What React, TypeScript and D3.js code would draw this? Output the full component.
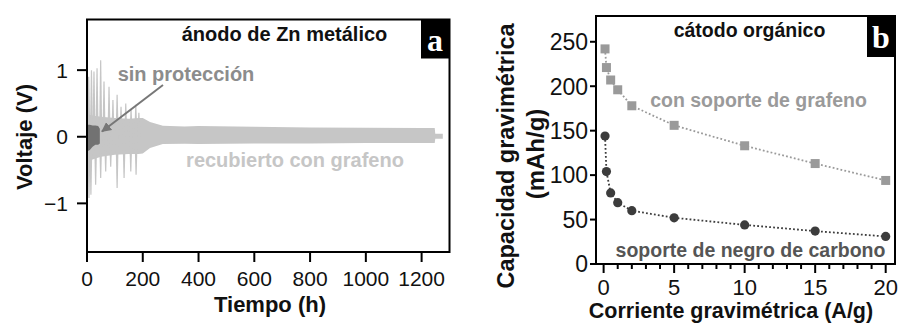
import React from "react";
import * as d3 from "d3";

// ---------- Panel a data (voltage profile envelope) ----------
const bandTime = [0, 20, 50, 100, 150, 185, 200, 226, 272, 350, 400, 600, 800, 1000, 1200, 1247, 1249, 1276];
const bandUpper = [0.34, 0.32, 0.3, 0.28, 0.27, 0.28, 0.28, 0.22, 0.165, 0.155, 0.16, 0.15, 0.14, 0.135, 0.13, 0.13, 0.045, 0.045];
const bandLower = [-0.36, -0.34, -0.3, -0.27, -0.26, -0.26, -0.25, -0.17, -0.11, -0.105, -0.11, -0.1, -0.1, -0.095, -0.095, -0.095, -0.03, -0.03];

const upSpikeTime = [6, 16, 25, 36, 49, 61, 79, 93, 108, 122, 139, 158, 175, 186];
const upSpikeV = [0.9, 1.0, 0.98, 1.03, 1.15, 0.83, 0.75, 0.55, 0.63, 0.45, 0.5, 0.42, 0.48, 0.36];
const downSpikeTime = [7, 14, 31, 49, 67, 85, 108, 133, 157, 176];
const downSpikeV = [-0.92, -0.87, -0.72, -0.62, -0.52, -0.45, -0.77, -0.62, -0.52, -0.57];

const bareTime = [0, 10, 20, 30, 40, 46];
const bareUpper = [0.18, 0.18, 0.17, 0.17, 0.16, 0.12];
const bareLower = [-0.22, -0.2, -0.15, -0.12, -0.12, -0.1];

const xTicksA = [0, 200, 400, 600, 800, 1000, 1200];
const yTicksA = [-1, 0, 1];

// ---------- Panel b data ----------
const currents = [0.1, 0.2, 0.5, 1, 2, 5, 10, 15, 20];
const grapheneCap = [242, 221, 207, 196, 178, 156, 133, 113, 94];
const carbonCap = [144, 104, 80, 69, 60, 52, 44, 37, 31];
const xTicksB = [0, 5, 10, 15, 20];
const xMinorB = d3.range(0, 21, 1);
const yTicksB = [0, 50, 100, 150, 200, 250];

const SANS = "'Liberation Sans', Arial, Helvetica, sans-serif";
const SERIF = "'Liberation Serif', 'Times New Roman', serif";

export default function App() {
  // Panel a scales
  const aL = 87, aR = 449.5, aT = 19.5, aB = 252;
  const xA = d3.scaleLinear().domain([0, 1300]).range([aL, aR]);
  const yA = d3.scaleLinear().domain([-1.73, 1.76]).range([aB, aT]);

  const bandData = bandTime.map((t, i) => ({ t, u: bandUpper[i], l: bandLower[i] }));
  const bareData = bareTime.map((t, i) => ({ t, u: bareUpper[i], l: bareLower[i] }));
  const area = d3
    .area<{ t: number; u: number; l: number }>()
    .x((d) => xA(d.t))
    .y0((d) => yA(d.l))
    .y1((d) => yA(d.u));

  const spikePath = (t: number, v: number) => {
    const x = xA(t);
    const y0 = yA(0);
    const y1 = yA(v);
    return `M${x - 1.6},${y0} L${x - 0.6},${y1} L${x + 0.6},${y1} L${x + 1.6},${y0} Z`;
  };

  // Panel b scales
  const bL = 596, bR = 895, bT = 16, bB = 264;
  const xB = d3.scaleLinear().domain([-0.54, 20.66]).range([bL, bR]);
  const yB = d3.scaleLinear().domain([0, 279]).range([bB, bT]);
  const lineB = d3
    .line<number>()
    .x((_, i) => xB(currents[i]))
    .y((d) => yB(d));

  const lightGray = "#c6c6c6";

  return (
    <svg
      width={899}
      height={323}
      style={{ position: "absolute", left: 0, top: 0, background: "#fff" }}
      fontFamily={SANS}
    >
      {/* ===== Panel a ===== */}
      <defs>
        <clipPath id="clipA">
          <rect x={aL} y={aT} width={aR - aL} height={aB - aT} />
        </clipPath>
        <marker id="arrowHead" viewBox="0 0 10 10" refX="9" refY="5" markerWidth="5" markerHeight="5" orient="auto">
          <path d="M0,0 L10,5 L0,10 Z" fill="#777" />
        </marker>
      </defs>
      <g clipPath="url(#clipA)">
        <path d={area(bandData) || ""} fill={lightGray} />
        {upSpikeTime.map((t, i) => (
          <path key={"u" + i} d={spikePath(t, upSpikeV[i])} fill={lightGray} />
        ))}
        {downSpikeTime.map((t, i) => (
          <path key={"d" + i} d={spikePath(t, downSpikeV[i])} fill={lightGray} />
        ))}
        <path d={area(bareData) || ""} fill="#727272" />
      </g>
      <rect x={aL} y={aT} width={aR - aL} height={aB - aT} fill="none" stroke="#000" strokeWidth={2} />
      {/* panel label a */}
      <rect x={421} y={aT} width={aR - 421} height={39} fill="#000" />
      <text x={435} y={51} fill="#fff" fontFamily={SERIF} fontWeight="bold" fontSize={32} textAnchor="middle">
        a
      </text>
      {/* ticks a */}
      {yTicksA.map((v) => (
        <g key={"ya" + v}>
          <line x1={aL - 10} x2={aL} y1={yA(v)} y2={yA(v)} stroke="#000" strokeWidth={2} />
          <text x={68} y={yA(v)} dy="0.36em" fontSize={21} textAnchor="end" fill="#111">
            {v < 0 ? "\u2212" + Math.abs(v) : v}
          </text>
        </g>
      ))}
      {xTicksA.map((v) => (
        <g key={"xa" + v}>
          <line x1={xA(v)} x2={xA(v)} y1={aB} y2={aB + 10} stroke="#000" strokeWidth={2} />
          <text x={xA(v)} y={286} fontSize={21} textAnchor="middle" fill="#111">
            {v}
          </text>
        </g>
      ))}
      <text x={270} y={312} fontSize={22} fontWeight="bold" textAnchor="middle" fill="#111">
        Tiempo (h)
      </text>
      <text
        transform="translate(32,137) rotate(-90)"
        fontSize={22}
        fontWeight="bold"
        textAnchor="middle"
        fill="#111"
      >
        Voltaje (V)
      </text>
      <text x={284.5} y={41} fontSize={20} fontWeight="bold" textAnchor="middle" fill="#111">
        ánodo de Zn metálico
      </text>
      <text x={186} y={81} fontSize={20} fontWeight="bold" textAnchor="middle" fill="#8c8c8c">
        sin protección
      </text>
      <line x1={163} y1={85} x2={102} y2={131.5} stroke="#777" strokeWidth={2} markerEnd="url(#arrowHead)" />
      <text x={295} y={167} fontSize={20} fontWeight="bold" textAnchor="middle" fill={lightGray}>
        recubierto con grafeno
      </text>

      {/* ===== Panel b ===== */}
      <path d={lineB(grapheneCap) || ""} fill="none" stroke="#9a9a9a" strokeWidth={1.8} strokeDasharray="1.8,2.2" />
      <path d={lineB(carbonCap) || ""} fill="none" stroke="#3c3c3c" strokeWidth={1.8} strokeDasharray="1.8,2.2" />
      {grapheneCap.map((v, i) => (
        <rect key={"g" + i} x={xB(currents[i]) - 4.5} y={yB(v) - 4.5} width={9} height={9} fill="#9a9a9a" />
      ))}
      {carbonCap.map((v, i) => (
        <circle key={"c" + i} cx={xB(currents[i])} cy={yB(v)} r={4.6} fill="#3c3c3c" />
      ))}
      <rect x={bL} y={bT} width={bR - bL} height={bB - bT} fill="none" stroke="#000" strokeWidth={2} />
      <rect x={867} y={bT} width={bR - 867} height={41} fill="#000" />
      <text x={881} y={48} fill="#fff" fontFamily={SERIF} fontWeight="bold" fontSize={32} textAnchor="middle">
        b
      </text>
      {yTicksB.map((v) => (
        <g key={"yb" + v}>
          <line x1={bL - 6} x2={bL} y1={yB(v)} y2={yB(v)} stroke="#000" strokeWidth={2} />
          <text x={588} y={yB(v)} dy="0.36em" fontSize={23} textAnchor="end" fill="#111">
            {v}
          </text>
        </g>
      ))}
      {xMinorB.map((v) => (
        <line
          key={"mb" + v}
          x1={xB(v)}
          x2={xB(v)}
          y1={bB}
          y2={bB + (v % 5 === 0 ? 9 : 5)}
          stroke="#000"
          strokeWidth={2}
        />
      ))}
      {xTicksB.map((v) => (
        <text key={"xb" + v} x={xB(v)} y={295} fontSize={22} textAnchor="middle" fill="#111">
          {v}
        </text>
      ))}
      <text x={731} y={318} fontSize={21.5} fontWeight="bold" textAnchor="middle" fill="#111">
        Corriente gravimétrica (A/g)
      </text>
      <text transform="translate(514,156) rotate(-90)" fontSize={23.5} fontWeight="bold" textAnchor="middle" fill="#111">
        Capacidad gravimétrica
      </text>
      <text transform="translate(544,154) rotate(-90)" fontSize={24} fontWeight="bold" textAnchor="middle" fill="#111">
        (mAh/g)
      </text>
      <text x={749.5} y={37} fontSize={19.5} fontWeight="bold" textAnchor="middle" fill="#111">
        cátodo orgánico
      </text>
      <text x={758.5} y={107} fontSize={19.5} fontWeight="bold" textAnchor="middle" fill="#9a9a9a">
        con soporte de grafeno
      </text>
      <text x={750.5} y={257} fontSize={19.5} fontWeight="bold" textAnchor="middle" fill="#555">
        soporte de negro de carbono
      </text>
    </svg>
  );
}
